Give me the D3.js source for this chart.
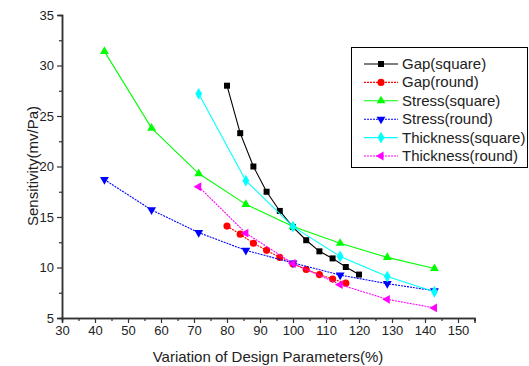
<!DOCTYPE html>
<head>
  <meta charset="utf-8">
  <title>Sensitivity vs design parameters</title>
  <script src="https://cdn.jsdelivr.net/npm/d3@7/dist/d3.min.js"></script>
  <style>
    body { margin: 0; background: #fff; }
    text { font-family: "Liberation Sans", Arial, sans-serif; fill: #222; }
  </style>
</head>
<body>
<div id="chart"></div>
<script>
// values
const gapX = [80, 84, 88, 92, 96, 100, 104, 108, 112, 116, 120];
const gapSquare = [28.0, 23.3, 20.0, 17.5, 15.6, 14.0, 12.7, 11.6, 10.9, 10.05, 9.3];
const gapRoundX = [80, 84, 88, 92, 96, 100, 104, 108, 112, 116];
const gapRound = [14.1, 13.3, 12.4, 11.7, 11.0, 10.35, 9.8, 9.3, 8.85, 8.45];
const stressX = [42.86, 57.14, 71.43, 85.71, 100, 114.29, 128.57, 142.86];
const stressSquare = [31.4, 23.8, 19.3, 16.25, 14.05, 12.4, 11.0, 9.9];
const stressRound = [18.7, 15.7, 13.45, 11.7, 10.45, 9.25, 8.4, 7.7];
const thickX = [71.43, 85.71, 100, 114.29, 128.57, 142.86];
const thickSquare = [27.2, 18.6, 14.05, 11.1, 9.1, 7.6];
const thickRound = [18.0, 13.4, 10.4, 8.3, 6.85, 6.0];

const xTicks = [30, 40, 50, 60, 70, 80, 90, 100, 110, 120, 130, 140, 150];
const yTicks = [5, 10, 15, 20, 25, 30, 35];

const series = [
  {name: 'Gap(square)', xs: gapX, ys: gapSquare, color: '#000000', dash: null, sym: d3.symbolSquare, size: 36},
  {name: 'Gap(round)', xs: gapRoundX, ys: gapRound, color: '#ff0000', dash: '2,1', sym: d3.symbolCircle, size: 40},
  {name: 'Stress(square)', xs: stressX, ys: stressSquare, color: '#00ff00', dash: null, sym: d3.symbolTriangle, size: 34},
  {name: 'Stress(round)', xs: stressX, ys: stressRound, color: '#0000ff', dash: '2,1', sym: d3.symbolTriangle, size: 34, rot: 180},
  {name: 'Thickness(square)', xs: thickX, ys: thickSquare, color: '#00ffff', dash: null, sym: d3.symbolDiamond, size: 40},
  {name: 'Thickness(round)', xs: thickX, ys: thickRound, color: '#ff00ff', dash: '2,1', sym: d3.symbolTriangle, size: 34, rot: -90}
];

const width = 529, height = 366;
const svg = d3.select('#chart').append('svg')
  .attr('width', width).attr('height', height);

const x = d3.scaleLinear().domain([30, 155]).range([62, 474.5]);
const y = d3.scaleLinear().domain([5, 35]).range([318, 15]);

// axes, major then minor ticks
svg.append('g').attr('transform', 'translate(0,318)')
  .call(d3.axisBottom(x).tickValues(xTicks).tickSize(5).tickPadding(3).tickFormat(d3.format('d')));
svg.append('g').attr('transform', 'translate(0,318)')
  .call(d3.axisBottom(x).tickValues(d3.range(35, 156, 10)).tickSize(3).tickFormat(''));
svg.append('g').attr('transform', 'translate(62,0)')
  .call(d3.axisLeft(y).tickValues(yTicks).tickSize(5).tickPadding(3));
svg.append('g').attr('transform', 'translate(62,0)')
  .call(d3.axisLeft(y).tickValues(d3.range(7.5, 35, 5)).tickSize(3).tickFormat(''));

svg.selectAll('.domain').attr('stroke', '#333').attr('stroke-width', 1.5);
svg.selectAll('.tick line').attr('stroke', '#333').attr('stroke-width', 1.2);
svg.selectAll('.tick text').style('font-size', '13px').style('font-family', '"Liberation Sans", Arial, sans-serif').attr('fill', '#222');

svg.append('text')
  .attr('x', 268).attr('y', 362)
  .attr('text-anchor', 'middle')
  .style('font-size', '15px')
  .text('Variation of Design Parameters(%)');

svg.append('text')
  .attr('transform', 'translate(38,166) rotate(-90)')
  .attr('text-anchor', 'middle')
  .style('font-size', '15px')
  .text('Sensitivity(mv/Pa)');

// lines and markers
const line = d3.line().x(d => x(d[0])).y(d => y(d[1]));
series.forEach(s => {
  const pts = s.xs.map((v, i) => [v, s.ys[i]]);
  svg.append('path')
    .attr('d', line(pts))
    .attr('fill', 'none')
    .attr('stroke', s.color)
    .attr('stroke-width', 1.1)
    .attr('stroke-dasharray', s.dash);
  svg.append('g').selectAll('path')
    .data(pts).enter().append('path')
    .attr('d', d3.symbol().type(s.sym).size(s.size))
    .attr('transform', d => `translate(${x(d[0])},${y(d[1])}) rotate(${s.rot || 0})`)
    .attr('fill', s.color);
});

// legend
const lg = svg.append('g');
lg.append('rect')
  .attr('x', 351.5).attr('y', 47.5).attr('width', 176).attr('height', 120)
  .attr('fill', '#fff').attr('stroke', '#000').attr('stroke-width', 1);
series.forEach((s, i) => {
  const ly = 64 + i * 18.4;
  lg.append('line')
    .attr('x1', 364).attr('x2', 398).attr('y1', ly).attr('y2', ly)
    .attr('stroke', s.color).attr('stroke-width', 1.1)
    .attr('stroke-dasharray', s.dash);
  lg.append('path')
    .attr('d', d3.symbol().type(s.sym).size(s.size))
    .attr('transform', `translate(381,${ly}) rotate(${s.rot || 0})`)
    .attr('fill', s.color);
  lg.append('text')
    .attr('x', 402).attr('y', ly + 5)
    .style('font-size', '15px')
    .text(s.name);
});
</script>
</body>
